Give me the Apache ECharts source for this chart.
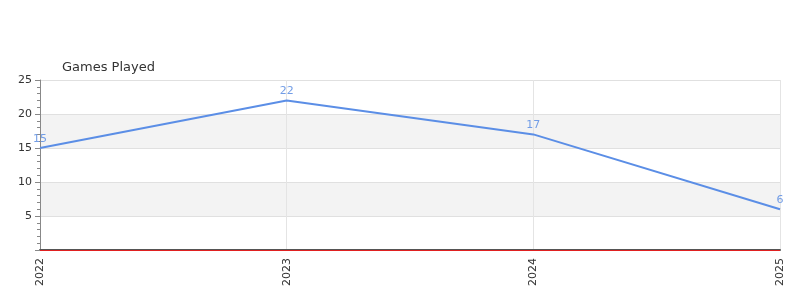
<!DOCTYPE html>
<html><head><meta charset="utf-8">
<script src="https://cdn.jsdelivr.net/npm/echarts@6/dist/echarts.min.js"></script>
<style>html,body{margin:0;padding:0;background:#fff}#c{width:800px;height:300px}</style>
</head><body><div id="c"></div>
<script>
const categories = ['2022','2023','2024','2025'];
const gamesPlayed = [15, 22, 17, 6];
const yTicks = [0, 5, 10, 15, 20, 25];
const baseline = 0;

const chart = echarts.init(document.getElementById('c'));
chart.setOption({
  animation: false,
  title: { text: 'Games Played', left: 57, top: 56, textStyle: { fontSize: 13, fontWeight: 'normal', color: '#333', fontFamily: 'DejaVu Sans' } },
  grid: { left: 40, right: 20, top: 80, bottom: 50 },
  xAxis: {
    type: 'category', data: categories, boundaryGap: false,
    axisLine: { lineStyle: { color: '#555', width: 2 } },
    axisTick: { show: false },
    axisLabel: { rotate: 90, color: '#333', fontSize: 11, fontFamily: 'DejaVu Sans', margin: 8 },
    splitLine: { show: true, lineStyle: { color: '#e4e4e4' } }
  },
  yAxis: {
    type: 'value', min: yTicks[0], max: yTicks[yTicks.length-1], interval: 5,
    axisLine: { show: true, lineStyle: { color: '#888' } },
    axisTick: { show: true, length: 5, lineStyle: { color: '#888' } },
    minorTick: { show: true, splitNumber: 5, length: 3, lineStyle: { color: '#888' } },
    axisLabel: { color: '#333', fontSize: 11, fontFamily: 'DejaVu Sans', showMinLabel: false, margin: 8 },
    splitLine: { show: true, lineStyle: { color: '#e0e0e0' } },
    splitArea: { show: true, areaStyle: { color: ['#ffffff', '#f3f3f3'] } }
  },
  series: [{
    type: 'line', data: gamesPlayed, symbol: 'circle', symbolSize: 1, showSymbol: true,
    itemStyle: { color: 'rgba(91,142,230,0)' },
    lineStyle: { color: '#5b8ee6', width: 2 },
    label: { show: true, position: 'top', color: '#729de6', fontSize: 11, fontFamily: 'DejaVu Sans', distance: 3 },
    markLine: { silent: true, symbol: 'none', label: { show: false }, lineStyle: { color: '#e02020', type: 'solid', width: 1, opacity: 1 }, data: [{ yAxis: baseline }] }
  }]
});
</script></body></html>
